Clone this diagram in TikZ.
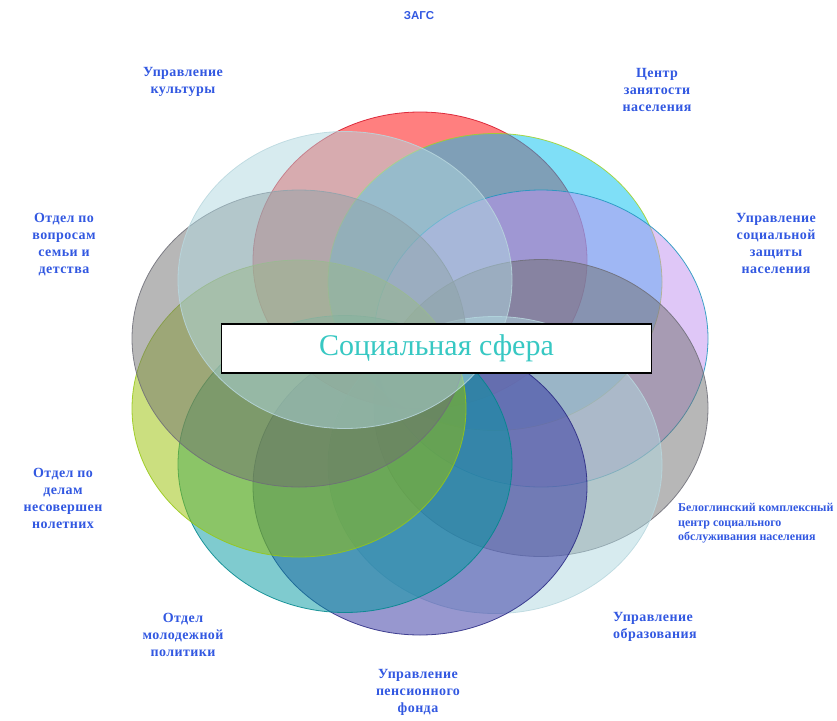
\documentclass[tikz,border=0pt]{standalone}
\usepackage{fontspec}
\setmainfont{Liberation Serif}
\newfontfamily\sansf{Liberation Sans}
\newfontfamily\labf[LetterSpace=3]{Liberation Serif}
\definecolor{redF}{RGB}{255,0,0}\definecolor{redD}{RGB}{215,20,40}
\definecolor{cyanF}{RGB}{0,192,240}\definecolor{cyanD}{RGB}{160,210,40}
\definecolor{purpF}{RGB}{192,144,240}\definecolor{purpD}{RGB}{30,150,190}
\definecolor{grayF}{RGB}{112,112,112}\definecolor{grayD}{RGB}{110,110,120}
\definecolor{paleF}{RGB}{176,216,224}\definecolor{paleD}{RGB}{185,215,222}
\definecolor{indF}{RGB}{48,48,160}\definecolor{indD}{RGB}{40,40,130}
\definecolor{tealF}{RGB}{0,152,160}\definecolor{tealD}{RGB}{0,135,140}
\definecolor{ygF}{RGB}{152,192,0}\definecolor{ygD}{RGB}{150,200,20}
\definecolor{labblue}{RGB}{50,88,225}
\definecolor{titlecol}{RGB}{55,200,195}
\begin{document}
\begin{tikzpicture}[x=1pt,y=-1pt,
  petal/.style={fill opacity=0.5,draw opacity=0.85,line width=0.8pt},
  lab/.style={align=center,text=labblue,font=\labf\fontsize{14}{17}\selectfont\bfseries,inner sep=0pt},
  centerbox/.style={draw=black,line width=1.3pt,fill=white,minimum width=430pt,minimum height=49pt,inner sep=0pt,text=titlecol,font=\fontsize{30}{36}\selectfont}]
\useasboundingbox (0,0) rectangle (837,720);
\def\rx{167pt}\def\ry{148.5pt}
% petals, clockwise from top
\path[petal,fill=redF,draw=redD]   (420,260.5) ellipse [x radius=\rx,y radius=\ry];
\path[petal,fill=cyanF,draw=cyanD] (495,282) ellipse [x radius=\rx,y radius=\ry];
\path[petal,fill=purpF,draw=purpD] (541,338.5) ellipse [x radius=\rx,y radius=\ry];
\path[petal,fill=grayF,draw=grayD] (541,408) ellipse [x radius=\rx,y radius=\ry];
\path[petal,fill=paleF,draw=paleD] (495,465) ellipse [x radius=\rx,y radius=\ry];
\path[petal,fill=indF,draw=indD]   (420,486.5) ellipse [x radius=\rx,y radius=\ry];
\path[petal,fill=tealF,draw=tealD] (345,464) ellipse [x radius=\rx,y radius=\ry];
\path[petal,fill=ygF,draw=ygD]     (299,408.5) ellipse [x radius=\rx,y radius=\ry];
\path[petal,fill=grayF,draw=grayD] (299,338.5) ellipse [x radius=\rx,y radius=\ry];
\path[petal,fill=paleF,draw=paleD] (345,280) ellipse [x radius=\rx,y radius=\ry];
% centre
\node[centerbox] (c) at (436.5,348.5) {\raisebox{-2pt}{Социальная сфера}};
% labels
\node[text=labblue,font=\fontsize{11.5}{13}\sansf\bfseries,inner sep=0pt] (zags) at (419,15.5) {ЗАГС};
\node[lab] (cz) at (657,90) {Центр\\занятости\\населения};
\node[lab] (usz) at (776,243.5) {Управление\\социальной\\защиты\\населения};
\node[lab,align=left,anchor=west,font=\fontsize{12}{14.5}\selectfont\bfseries] (bel) at (678,523.5) {Белоглинский комплексный\\центр социального\\обслуживания населения};
\node[lab,align=left,anchor=west] (uo) at (613,627) {Управление\\образования};
\node[lab] (upf) at (418,692) {Управление\\пенсионного\\фонда};
\node[lab] (omp) at (183,635) {Отдел\\молодежной\\политики};
\node[lab] (odn) at (63,498.5) {Отдел по\\делам\\несовершен\\нолетних};
\node[lab] (ovs) at (64,245) {Отдел по\\вопросам\\семьи и\\детства};
\node[lab] (uk) at (183,82) {Управление\\культуры};
\end{tikzpicture}
\end{document}
